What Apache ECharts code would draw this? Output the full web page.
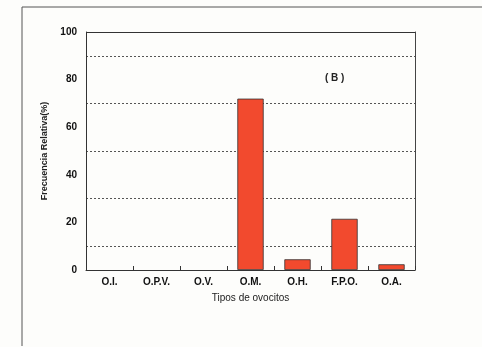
<!DOCTYPE html>
<html>
<head>
<meta charset="utf-8">
<script src="https://cdn.jsdelivr.net/npm/echarts@6/dist/echarts.min.js"></script>
<style>
  html, body { margin: 0; padding: 0; background: #fdfdfb; }
  #chart { width: 482px; height: 347px; }
</style>
</head>
<body>
<div id="chart"></div>
<script>
// Oocyte type categories and their relative frequencies (%)
const categories = ['O.I.', 'O.P.V.', 'O.V.', 'O.M.', 'O.H.', 'F.P.O.', 'O.A.'];
const frequencies = [0, 0, 0, 72, 4.5, 21.5, 2.4];
// Dashed reference lines drawn between the labelled ticks
const gridLevels = [10, 30, 50, 70, 90];
const yLabels = [0, 20, 40, 60, 80, 100];

const chart = echarts.init(document.getElementById('chart'));
const font = 'Liberation Sans, Arial, sans-serif';

chart.setOption({
  animation: false,
  backgroundColor: '#fdfdfb',
  graphic: [
    {
      type: 'polyline',
      shape: { points: [[22, 346], [22, 7], [482, 7]] },
      style: { stroke: '#555', lineWidth: 1, fill: null }
    },
    {
      type: 'text',
      left: 325, top: 73,
      style: { text: '( B )', font: 'bold 10px ' + font, fill: '#222' }
    }
  ],
  grid: { left: 86, right: 67, top: 32, bottom: 77 },
  xAxis: {
    type: 'category',
    data: categories,
    name: 'Tipos de ovocitos',
    nameLocation: 'middle',
    nameGap: 23,
    nameTextStyle: { fontFamily: font, fontSize: 10, color: '#222' },
    axisLine: { lineStyle: { color: '#333', width: 1 } },
    axisTick: { show: true, inside: true, length: 4, lineStyle: { color: '#333' } },
    axisLabel: { fontFamily: font, fontSize: 10, fontWeight: 'bold', color: '#111', margin: 7 },
    splitLine: { show: false }
  },
  yAxis: [
    {
      type: 'value',
      min: 0, max: 100, interval: 20,
      name: 'Frecuencia Relativa(%)',
      nameLocation: 'middle',
      nameGap: 27,
      nameTextStyle: { fontFamily: font, fontSize: 9, color: '#222', fontWeight: 'bold' },
      axisLine: { show: true, lineStyle: { color: '#333', width: 1 } },
      axisTick: { show: false },
      axisLabel: {
        fontFamily: font, fontSize: 10, fontWeight: 'bold', color: '#111', margin: 9,
        formatter: v => (yLabels.includes(v) ? String(v) : '')
      },
      splitLine: { show: false }
    },
    {
      // right edge of the plot frame
      type: 'value',
      position: 'right',
      min: 0, max: 100, interval: 20,
      axisLine: { show: true, lineStyle: { color: '#444', width: 1 } },
      axisTick: { show: false },
      axisLabel: { show: false },
      splitLine: { show: false }
    }
  ],
  series: [
    {
      type: 'bar',
      data: frequencies.map(v => ({
        value: v,
        itemStyle: v === 0 ? { borderWidth: 0 } : undefined
      })),
      barWidth: '56%',
      itemStyle: { color: '#f24a2e', borderColor: '#333', borderWidth: 0.8 },
      markLine: {
        silent: true,
        symbol: 'none',
        label: { show: false },
        lineStyle: { color: '#555', type: [2, 2], width: 1 },
        z: 0,
        data: gridLevels.map(v => ({ yAxis: v }))
      },
      z: 3
    },
    {
      // top edge of the plot frame
      type: 'line',
      data: [],
      markLine: {
        silent: true,
        symbol: 'none',
        label: { show: false },
        lineStyle: { color: '#333', type: 'solid', width: 1 },
        data: [{ yAxis: 100 }]
      }
    }
  ]
});
</script>
</body>
</html>
